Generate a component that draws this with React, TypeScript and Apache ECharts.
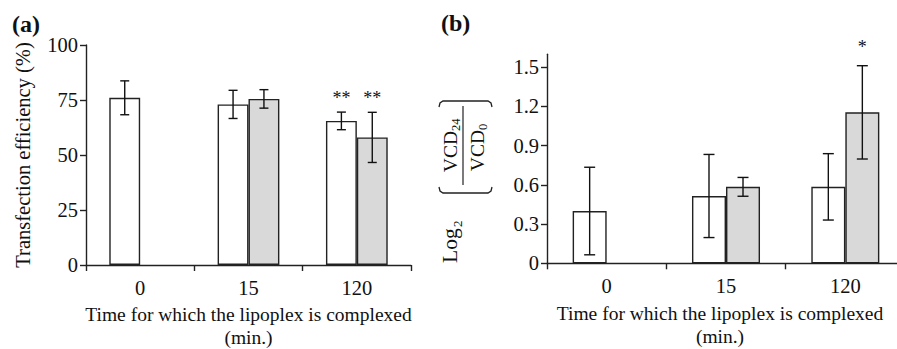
import React, { useEffect, useRef } from 'react';
import * as echarts from 'echarts';

// ---------- data ----------
const categories = ['0', '15', '120'];

const aWhite = [76, 73, 65.5];
const aWhiteErr = [7.7, 6.4, 4.0];
const aGray = [null, 75.5, 58.0];
const aGrayErr = [null, 4.2, 11.4];
const aWhiteStars = ['', '', '**'];
const aGrayStars = ['', '', '**'];
const aYTicks = [0, 25, 50, 75, 100];

const bWhite = [0.4, 0.515, 0.585];
const bWhiteErr = [0.335, 0.318, 0.254];
const bGray = [null, 0.585, 1.155];
const bGrayErr = [null, 0.072, 0.357];
const bWhiteStars = ['', '', ''];
const bGrayStars = ['', '', '*'];
const bYTicks = [0, 0.3, 0.6, 0.9, 1.2, 1.5];

const xTitle = 'Time for which the lipoplex is complexed\n(min.)';
const aYTitle = 'Transfection efficiency (%)';

// ---------- styles ----------
const FONT = '"Liberation Serif", "Times New Roman", Times, serif';
const INK = '#111';
const AXIS = '#222';
const GRAY = '#d9d9d9';
const GAP = 0.43;
const TICK_FONT = 20.5;

function errSeries(axisIdx: number, means: any[], errs: any[], stars: string[], side: number, capHalf: number, starOffset: number) {
  const data: number[][] = [];
  means.forEach((m, i) => {
    if (m != null && errs[i] != null) data.push([i, m, errs[i], i]);
  });
  return {
    type: 'custom',
    xAxisIndex: axisIdx,
    yAxisIndex: axisIdx,
    z: 5,
    clip: false,
    silent: true,
    encode: { x: 0, y: 1 },
    data,
    renderItem: (params: any, api: any) => {
      const ci = api.value(0);
      const m = api.value(1);
      const e = api.value(2);
      const idx = api.value(3);
      const band = api.size([1, 0])[0];
      const bw = (band * (1 - GAP)) / 2;
      const cx = api.coord([ci, m])[0] + (side * bw) / 2;
      const yt = api.coord([ci, m + e])[1];
      const yb = api.coord([ci, m - e])[1];
      const ls = { stroke: INK, lineWidth: 1.4 };
      const children: any[] = [
        { type: 'line', shape: { x1: cx, y1: yt, x2: cx, y2: yb }, style: ls },
        { type: 'line', shape: { x1: cx - capHalf, y1: yt, x2: cx + capHalf, y2: yt }, style: ls },
        { type: 'line', shape: { x1: cx - capHalf, y1: yb, x2: cx + capHalf, y2: yb }, style: ls },
      ];
      const s = stars[idx];
      if (s) {
        children.push({
          type: 'text',
          x: cx,
          y: yt - starOffset,
          style: { text: s, fontFamily: FONT, fontSize: 18, fill: INK, align: 'center', verticalAlign: 'middle' },
        });
      }
      return { type: 'group', children };
    },
  };
}

function barSeries(axisIdx: number, data: any[], color: string) {
  return {
    type: 'bar',
    xAxisIndex: axisIdx,
    yAxisIndex: axisIdx,
    data,
    barGap: '0%',
    barCategoryGap: GAP * 100 + '%',
    itemStyle: { color, borderColor: AXIS, borderWidth: 1.4 },
    silent: true,
  };
}

const axisLineStyle = { color: AXIS, width: 1.4 };

function xAxis(gridIndex: number, namePadding: number[]) {
  return {
    type: 'category',
    gridIndex,
    data: categories,
    boundaryGap: true,
    axisLine: { show: true, lineStyle: axisLineStyle },
    axisTick: { show: true, length: 6, alignWithLabel: false, lineStyle: axisLineStyle },
    axisLabel: { fontFamily: FONT, fontSize: TICK_FONT, color: INK, margin: 13, lineHeight: 20 },
    splitLine: { show: false },
    name: xTitle,
    nameLocation: 'middle',
    nameGap: 38,
    nameTextStyle: { fontFamily: FONT, fontSize: 19.5, color: INK, lineHeight: 23, padding: namePadding },
  };
}

// rotated compound y-title for panel (b): Log2 ( VCD24 / VCD0 )
function bYTitle() {
  const t = (text: string, x: number, y: number, size: number, align: string) => ({
    type: 'text',
    x,
    y,
    style: { text, fontFamily: FONT, fontSize: size, fill: INK, align, verticalAlign: 'middle' },
  });
  const br = (pts: number[][]) => ({
    type: 'polyline',
    shape: { points: pts },
    style: { stroke: AXIS, lineWidth: 1.3, fill: null },
  });
  return {
    type: 'group',
    x: 463,
    y: 147,
    rotation: Math.PI / 2,
    silent: true,
    children: [
      t('Log', -116, -13, 21.5, 'left'),
      t('2', -80, -6, 13, 'left'),
      br([[-40, -24], [-44, -23], [-46, -20], [-46, 25], [-44, 28], [-40, 29]]),
      br([[40, -24], [44, -23], [46, -20], [46, 25], [44, 28], [40, 29]]),
      t('VCD', 16, -13, 19.5, 'right'),
      t('24', 16, -7, 12.5, 'left'),
      { type: 'line', shape: { x1: -38, y1: 0, x2: 41, y2: 0 }, style: { stroke: AXIS, lineWidth: 1.2 } },
      t('VCD', 17, 14, 19.5, 'right'),
      t('0', 17, 20, 12.5, 'left'),
    ],
  };
}

export default function App() {
  const ref = useRef<HTMLDivElement>(null);
  useEffect(() => {
    if (!ref.current) return;
    const chart = echarts.init(ref.current, null, { renderer: 'svg' });
    const option: any = {
      animation: false,
      backgroundColor: '#fff',
      textStyle: { fontFamily: FONT },
      grid: [
        { left: 86, top: 45, width: 325, height: 220, containLabel: false, outerBoundsMode: 'none' },
        { left: 547, top: 54.2, width: 358, height: 209.1, containLabel: false, outerBoundsMode: 'none' },
      ],
      xAxis: [xAxis(0, [0, 0, 0, 0]), xAxis(1, [0, 12, 0, 0])],
      yAxis: [
        {
          type: 'value',
          gridIndex: 0,
          min: 0,
          max: 100,
          interval: 25,
          axisLine: { show: true, lineStyle: axisLineStyle },
          axisTick: { show: true, length: 6, lineStyle: axisLineStyle, customValues: aYTicks },
          axisLabel: { fontFamily: FONT, fontSize: TICK_FONT, color: INK, margin: 8, customValues: aYTicks },
          splitLine: { show: false },
          name: aYTitle,
          nameLocation: 'middle',
          nameGap: 53,
          nameTextStyle: { fontFamily: FONT, fontSize: 20.5, color: INK },
        },
        {
          type: 'value',
          gridIndex: 1,
          min: 0,
          max: 1.6,
          axisLine: { show: true, lineStyle: axisLineStyle },
          axisTick: { show: true, length: 6, lineStyle: axisLineStyle, customValues: bYTicks },
          axisLabel: {
            fontFamily: FONT,
            fontSize: TICK_FONT,
            color: INK,
            margin: 8,
            customValues: bYTicks,
            formatter: (v: number) => (v === 0 ? '0' : v.toFixed(1)),
          },
          splitLine: { show: false },
        },
      ],
      series: [
        barSeries(0, aWhite, '#ffffff'),
        barSeries(0, aGray, GRAY),
        errSeries(0, aWhite, aWhiteErr, aWhiteStars, -1, 4.5, 14),
        errSeries(0, aGray, aGrayErr, aGrayStars, 1, 4.5, 14),
        barSeries(1, bWhite, '#ffffff'),
        barSeries(1, bGray, GRAY),
        errSeries(1, bWhite, bWhiteErr, bWhiteStars, -1, 5.5, 19),
        errSeries(1, bGray, bGrayErr, bGrayStars, 1, 5.5, 19),
      ],
      graphic: [
        {
          type: 'text',
          left: 12,
          top: 12,
          style: { text: '(a)', fontFamily: FONT, fontSize: 24, fontWeight: 'bold', fill: INK },
        },
        {
          type: 'text',
          left: 441,
          top: 11,
          style: { text: '(b)', fontFamily: FONT, fontSize: 24, fontWeight: 'bold', fill: INK },
        },
        bYTitle(),
      ],
    };
    chart.setOption(option);
    return () => chart.dispose();
  }, []);
  return (
    <div
      ref={ref}
      style={{ position: 'fixed', left: 0, top: 0, width: 897, height: 349, background: '#fff' }}
    />
  );
}
